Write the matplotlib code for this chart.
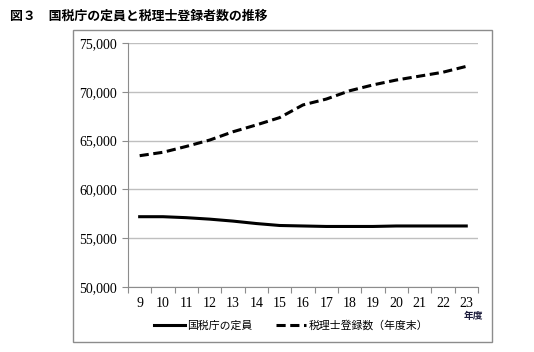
import matplotlib.pyplot as plt
from matplotlib.lines import Line2D
from matplotlib.patches import Rectangle

# 年度（平成）
years = [9, 10, 11, 12, 13, 14, 15, 16, 17, 18, 19, 20, 21, 22, 23]
# 国税庁の定員
nta_staff = [57200, 57200, 57100, 56950, 56750, 56500, 56300, 56250,
             56200, 56200, 56200, 56250, 56250, 56250, 56250]
# 税理士登録数（年度末）
tax_accountants = [63450, 63800, 64400, 65050, 65900, 66600, 67350, 68650,
                   69250, 70100, 70700, 71200, 71600, 72000, 72600]

# 目盛は明朝風（セリフ体）、見出し・凡例はゴシック
plt.rcParams['font.family'] = ['Liberation Serif', 'Noto Sans CJK JP']
jp = ['Noto Sans CJK JP', 'DejaVu Sans']

fig = plt.figure(figsize=(5.34, 3.52), dpi=100)

# 外枠
fig.patches.append(Rectangle((0.1367, 0.0284), 0.7846, 0.8864, transform=fig.transFigure,
                             fill=False, edgecolor='#8c8c8c', linewidth=1.0))

fig.text(0.019, 0.955, '図３　国税庁の定員と税理士登録者数の推移', family=jp,
         fontsize=9.3, fontweight='bold', va='center', ha='left')

ax = fig.add_axes([0.2397, 0.1847, 0.6553, 0.6933])
x = list(range(len(years)))
ax.plot(x, nta_staff, color='black', linewidth=2.2, label='国税庁の定員')
ax.plot(x, tax_accountants, color='black', linewidth=2.2, linestyle=(0, (3, 1.5)),
        label='税理士登録数（年度末）')

ax.set_ylim(50000, 75000)
ax.set_yticks(range(50000, 75001, 5000))
ax.set_yticklabels([f'{v:,}' for v in range(50000, 75001, 5000)], fontsize=10)
ax.set_xlim(-0.5, len(years) - 0.5)
ax.set_xticks([i - 0.5 for i in range(len(years) + 1)])
ax.set_xticklabels([])
ax.set_xticks(x, minor=True)
ax.set_xticklabels([str(y) for y in years], minor=True, fontsize=10)
ax.tick_params(axis='x', which='minor', length=0, pad=7)
ax.tick_params(axis='x', which='major', length=4, color='#8c8c8c', direction='out')
ax.tick_params(axis='y', length=4, color='#8c8c8c', direction='out', pad=4)

ax.grid(axis='y', color='#bfbfbf', linewidth=1.0)
ax.set_axisbelow(True)
for s in ['top', 'right']:
    ax.spines[s].set_visible(False)
for s in ['left', 'bottom']:
    ax.spines[s].set_color('#8c8c8c')

fig.text(0.869, 0.102, '年度', family=jp, fontsize=7, fontweight='bold',
         color='#1a1a3a', ha='left', va='center')

handles = [Line2D([], [], color='black', linewidth=2.2),
           Line2D([], [], color='black', linewidth=2.2, linestyle=(0, (3, 1.5)))]
fig.legend(handles, ['国税庁の定員', '税理士登録数（年度末）'], loc='center',
           bbox_to_anchor=(0.545, 0.076), ncol=2, frameon=False,
           prop={'family': jp, 'size': 7.8}, handlelength=2.8, handletextpad=0.2,
           columnspacing=2.2)

fig.savefig('out.png', dpi=100)
